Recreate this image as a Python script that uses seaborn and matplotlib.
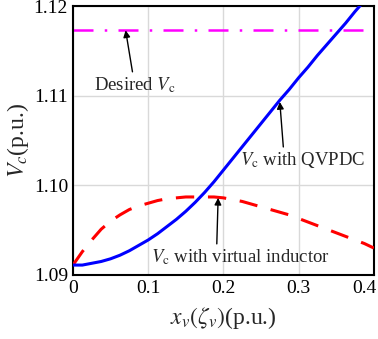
import pandas as pd
import seaborn as sns
import matplotlib.pyplot as plt
import matplotlib.transforms as mtransforms

# values
x_vals = [0, 0.0125, 0.025, 0.0375, 0.05, 0.0625, 0.075, 0.0875, 0.1, 0.1125,
          0.125, 0.1375, 0.15, 0.1625, 0.175, 0.1875, 0.2, 0.2125, 0.225, 0.2375,
          0.25, 0.2625, 0.275, 0.2875, 0.3, 0.3125, 0.325, 0.3375, 0.35, 0.3625,
          0.375, 0.3875, 0.4]
vc_qvpdc = [1.0911, 1.0911, 1.0913, 1.0915, 1.0918, 1.0922, 1.0927, 1.0933, 1.0939, 1.0946,
            1.0954, 1.0962, 1.0971, 1.0981, 1.0992, 1.1004, 1.1017, 1.1030, 1.1043, 1.1056,
            1.1069, 1.1082, 1.1095, 1.1107, 1.1120, 1.1132, 1.1145, 1.1157, 1.1169, 1.1181,
            1.1194, 1.1206, 1.1218]
vc_virtual = [1.0911, 1.0926, 1.0939, 1.0951, 1.0960, 1.0967, 1.0973, 1.0977, 1.0980, 1.0983,
              1.0985, 1.0986, 1.0987, 1.0987, 1.0987, 1.0987, 1.0986, 1.0984, 1.0982, 1.0979,
              1.0976, 1.0973, 1.0970, 1.0967, 1.0963, 1.0959, 1.0955, 1.0951, 1.0947, 1.0943,
              1.0939, 1.0935, 1.0930]
vc_desired = 1.1173

x_ticks = [0, 0.1, 0.2, 0.3, 0.4]
x_ticklabels = ['0', '0.1', '0.2', '0.3', '0.4']
y_ticks = [1.09, 1.10, 1.11, 1.12]
y_ticklabels = ['1.09', '1.10', '1.11', '1.12']

df = pd.DataFrame({'x': x_vals, 'qvpdc': vc_qvpdc, 'virtual': vc_virtual})

sns.set_style('white')
plt.rcParams['font.family'] = ['Liberation Serif', 'DejaVu Serif']
plt.rcParams['mathtext.fontset'] = 'stix'

fig = plt.figure(figsize=(3.78, 3.39), dpi=100)
ax = fig.add_axes([0.193, 0.189, 0.796, 0.793])

ax.grid(True, color='#d9d9d9', lw=1.0, zorder=0)
ax.axhline(vc_desired, color='#ff00ff', lw=1.8, ls=(0, (8, 4.5, 1, 4.5)), zorder=2)
sns.lineplot(data=df, x='x', y='virtual', ax=ax, color='#ff0000', lw=2.2,
             ls=(0, (6, 4.5)), zorder=3)
sns.lineplot(data=df, x='x', y='qvpdc', ax=ax, color='#0000ff', lw=2.2, zorder=4)

ax.set_xlim(0, 0.4)
ax.set_ylim(1.09, 1.12)
ax.set_xticks(x_ticks)
ax.set_xticklabels(x_ticklabels)
ax.set_yticks(y_ticks)
ax.set_yticklabels(y_ticklabels)
ax.tick_params(direction='in', length=4, width=1, labelsize=14, colors='k')
for s in ax.spines.values():
    s.set_color('k')
    s.set_linewidth(1.5)

# last x label sits a bit left so it stays inside the figure
last = ax.get_xticklabels()[-1]
last.set_transform(last.get_transform() + mtransforms.ScaledTranslation(-0.09, 0, fig.dpi_scale_trans))

ax.set_xlabel(r'$x_v(\zeta_v)$(p.u.)', fontsize=17, labelpad=6)
ax.set_ylabel(r'$V_c$(p.u.)', fontsize=17, labelpad=2)

arrow = dict(arrowstyle='-|>', color='k', lw=1.0, mutation_scale=10, shrinkA=0, shrinkB=0)
ax.annotate(r'Desired $V_{\rm c}$', xy=(0.070, vc_desired), xytext=(0.082, 1.1112),
            ha='center', va='center', fontsize=13.5, arrowprops=arrow)
ax.annotate(r'$V_{\rm c}$ with QVPDC', xy=(0.275, 1.1093), xytext=(0.305, 1.1028),
            ha='center', va='center', fontsize=13.5,
            arrowprops=dict(arrow, relpos=(0.35, 1.0)))
ax.annotate(r'$V_{\rm c}$ with virtual inductor', xy=(0.193, 1.0986), xytext=(0.222, 1.0920),
            ha='center', va='center', fontsize=13.5,
            arrowprops=dict(arrow, relpos=(0.37, 1.0)))

fig.savefig('out.png', dpi=100)
